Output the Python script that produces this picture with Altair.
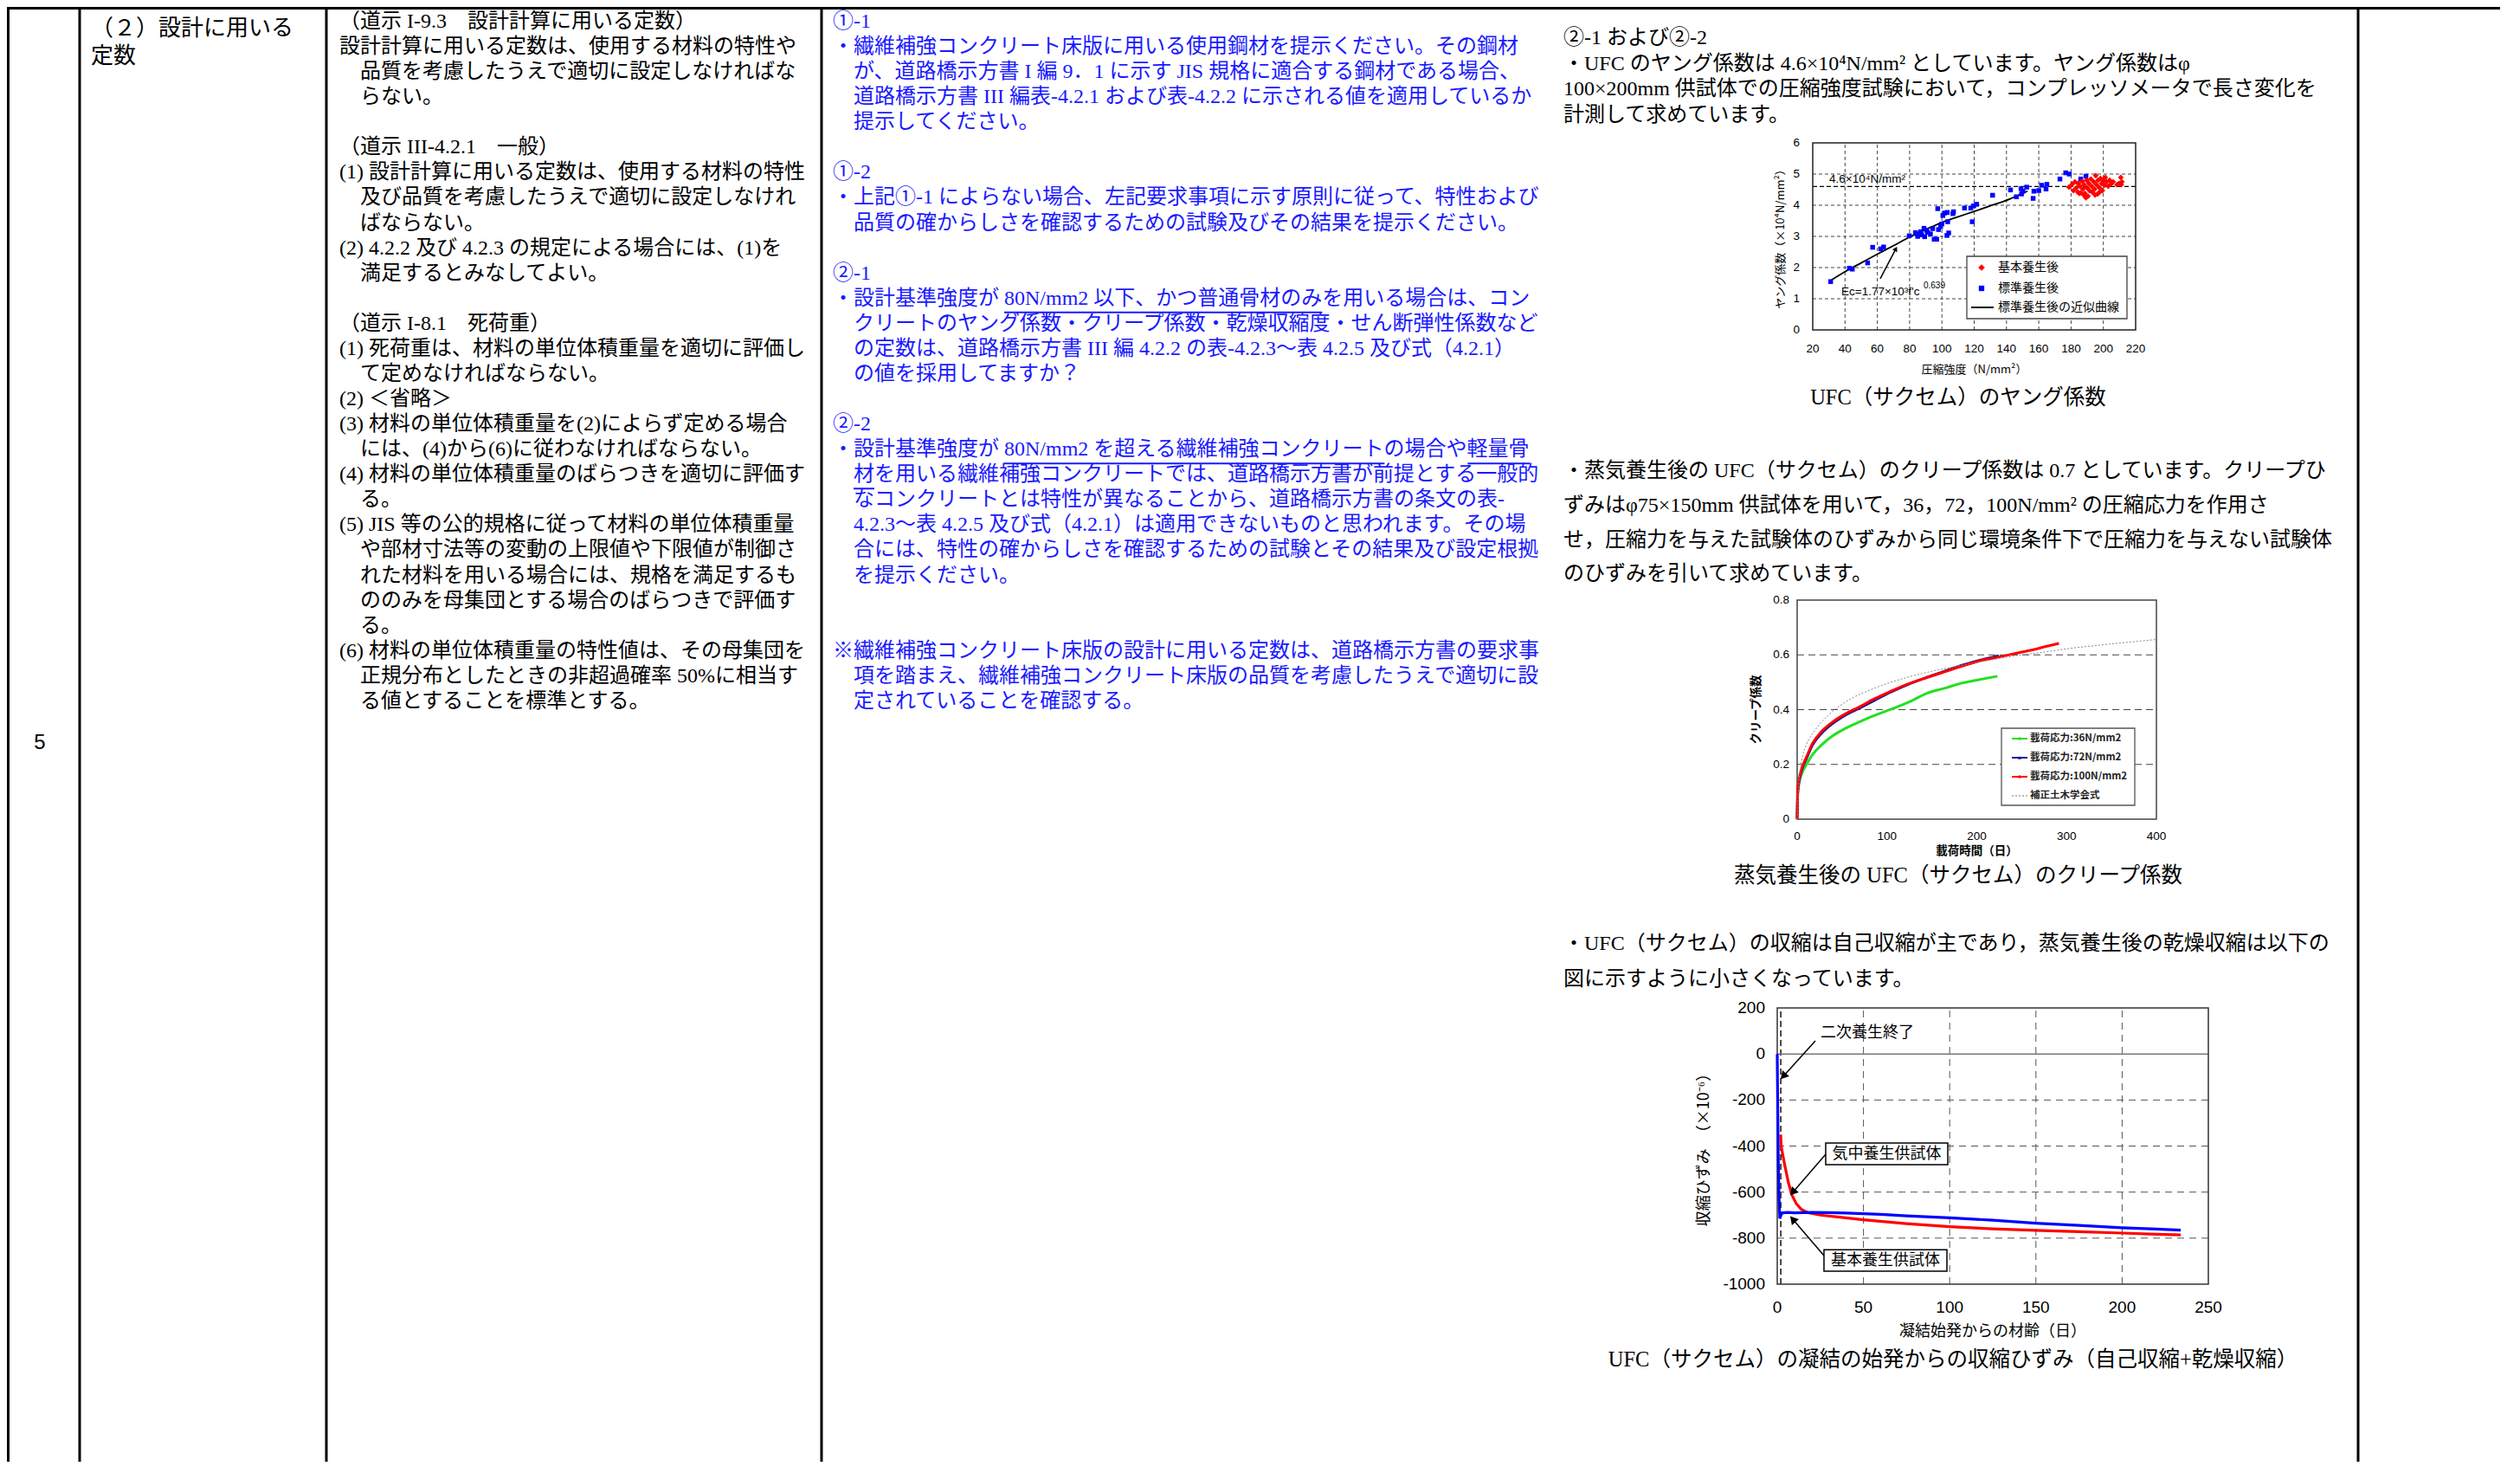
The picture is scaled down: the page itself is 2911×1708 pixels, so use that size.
import math
import altair as alt
import pandas as pd

# ---------------- page geometry ----------------
W, H = 2880, 1680
OFF = 8
SERIF = "Liberation Serif, Noto Sans CJK JP"
SANS = "Noto Sans CJK JP"
ARIAL = "Liberation Sans, Noto Sans CJK JP"
NARROW = "Liberation Sans Narrow, Liberation Sans, Noto Sans CJK JP"
BLUE_TXT = "#1a1aff"

# ---------------- document text ----------------
COL1_TEXT = ["5"]
COL2_TEXT = ["（２）設計に用いる", "定数"]

COL3_ROWS = [0, 1, 2, 3, 5, 6, 7, 8, 9, 10, 12, 13, 14, 15, 16, 17, 18, 19, 20, 21, 22, 23, 24, 25, 26, 27]
COL3_INDENT = [0, 0, 1, 1, 0, 0, 1, 1, 0, 1, 0, 0, 1, 0, 0, 1, 0, 1, 0, 1, 1, 1, 1, 0, 1, 1]
COL3_TEXT = [
    "（道示 I-9.3　設計計算に用いる定数）",
    "設計計算に用いる定数は、使用する材料の特性や",
    "品質を考慮したうえで適切に設定しなければな",
    "らない。",
    "（道示 III-4.2.1　一般）",
    "(1) 設計計算に用いる定数は、使用する材料の特性",
    "及び品質を考慮したうえで適切に設定しなけれ",
    "ばならない。",
    "(2) 4.2.2 及び 4.2.3 の規定による場合には、(1)を",
    "満足するとみなしてよい。",
    "（道示 I-8.1　死荷重）",
    "(1) 死荷重は、材料の単位体積重量を適切に評価し",
    "て定めなければならない。",
    "(2) ＜省略＞",
    "(3) 材料の単位体積重量を(2)によらず定める場合",
    "には、(4)から(6)に従わなければならない。",
    "(4) 材料の単位体積重量のばらつきを適切に評価す",
    "る。",
    "(5) JIS 等の公的規格に従って材料の単位体積重量",
    "や部材寸法等の変動の上限値や下限値が制御さ",
    "れた材料を用いる場合には、規格を満足するも",
    "ののみを母集団とする場合のばらつきで評価す",
    "る。",
    "(6) 材料の単位体積重量の特性値は、その母集団を",
    "正規分布としたときの非超過確率 50%に相当す",
    "る値とすることを標準とする。",
]

COL4_ROWS = [0, 1, 2, 3, 4, 6, 7, 8, 10, 11, 12, 13, 14, 16, 17, 18, 19, 20, 21, 22, 25, 26, 27]
COL4_INDENT = [0, 0, 1, 1, 1, 0, 0, 1, 0, 0, 1, 1, 1, 0, 0, 1, 1, 1, 1, 1, 0, 1, 1]
COL4_TEXT = [
    "①-1",
    "・繊維補強コンクリート床版に用いる使用鋼材を提示ください。その鋼材",
    "が、道路橋示方書 I 編 9．1 に示す JIS 規格に適合する鋼材である場合、",
    "道路橋示方書 III 編表-4.2.1 および表-4.2.2 に示される値を適用しているか",
    "提示してください。",
    "①-2",
    "・上記①-1 によらない場合、左記要求事項に示す原則に従って、特性および",
    "品質の確からしさを確認するための試験及びその結果を提示ください。",
    "②-1",
    "・設計基準強度が 80N/mm2 以下、かつ普通骨材のみを用いる場合は、コン",
    "クリートのヤング係数・クリープ係数・乾燥収縮度・せん断弾性係数など",
    "の定数は、道路橋示方書 III 編 4.2.2 の表-4.2.3～表 4.2.5 及び式（4.2.1）",
    "の値を採用してますか？",
    "②-2",
    "・設計基準強度が 80N/mm2 を超える繊維補強コンクリートの場合や軽量骨",
    "材を用いる繊維補強コンクリートでは、道路橋示方書が前提とする一般的",
    "なコンクリートとは特性が異なることから、道路橋示方書の条文の表-",
    "4.2.3～表 4.2.5 及び式（4.2.1）は適用できないものと思われます。その場",
    "合には、特性の確からしさを確認するための試験とその結果及び設定根拠",
    "を提示ください。",
    "※繊維補強コンクリート床版の設計に用いる定数は、道路橋示方書の要求事",
    "項を踏まえ、繊維補強コンクリート床版の品質を考慮したうえで適切に設",
    "定されていることを確認する。",
]
# underlined parts of column 4: (row, text before, underlined text)
COL4_UNDERLINES = [
    (11, "・設計基準強度が ", "80N/mm2 以下、かつ普通骨材のみ"),
    (17, "・設計基準強度が ", "80N/mm2 を超える繊維補強コンクリート"),
    (17, "・設計基準強度が 80N/mm2 を超える繊維補強コンクリートの場合や", "軽量骨"),
    (18, "　", "材"),
]

COL5_Y = [44, 74, 103, 133, 544, 584, 624, 663, 1090, 1131]
COL5_TEXT = [
    "②-1 および②-2",
    "・UFC のヤング係数は 4.6×10⁴N/mm² としています。ヤング係数はφ",
    "100×200mm 供試体での圧縮強度試験において，コンプレッソメータで長さ変化を",
    "計測して求めています。",
    "・蒸気養生後の UFC（サクセム）のクリープ係数は 0.7 としています。クリープひ",
    "ずみはφ75×150mm 供試体を用いて，36，72，100N/mm² の圧縮応力を作用さ",
    "せ，圧縮力を与えた試験体のひずみから同じ環境条件下で圧縮力を与えない試験体",
    "のひずみを引いて求めています。",
    "・UFC（サクセム）の収縮は自己収縮が主であり，蒸気養生後の乾燥収縮は以下の",
    "図に示すように小さくなっています。",
]
CAPTIONS = [
    "UFC（サクセム）のヤング係数",
    "蒸気養生後の UFC（サクセム）のクリープ係数",
    "UFC（サクセム）の凝結の始発からの収縮ひずみ（自己収縮+乾燥収縮）",
]

# ---------------- chart 1 data : Young's modulus ----------------
C1_BLUE_X = [31.1, 42.7, 44.5, 54.0, 57.1, 62.1, 63.9, 79.8, 83.6, 84.5, 85.0, 86.8, 87.5, 88.9, 89.3,
             90.5, 91.1, 92.9, 94.3, 95.2, 96.8, 97.4, 97.9, 99.2, 100.0, 100.6, 101.8, 103.1, 103.3,
             103.6, 104.2, 106.8, 107.2, 114.0, 117.9, 118.8, 119.7, 121.5, 131.4, 142.5, 146.1,
             149.0, 149.3, 150.2, 152.5, 156.5, 157.0, 160.0, 161.8, 164.5, 165.0, 173.1, 176.7,
             178.9, 186.0, 189.2]
C1_BLUE_Y = [1.55, 1.98, 1.95, 2.15, 2.65, 2.60, 2.66, 3.02, 3.12, 3.08, 3.00, 3.15, 3.05, 3.26, 2.99,
             3.20, 3.13, 3.08, 3.25, 2.91, 2.91, 3.89, 3.22, 3.31, 3.40, 3.67, 3.75, 3.03, 3.77,
             3.47, 3.11, 3.73, 3.79, 3.91, 3.91, 3.47, 3.98, 4.03, 4.32, 4.49, 4.27,
             4.53, 4.36, 4.45, 4.58, 4.22, 4.45, 4.47, 4.64, 4.52, 4.67, 4.84, 5.04,
             5.00, 4.84, 4.93]
C1_RED_X = [178.7, 180.6, 181.5, 182.4, 183.3, 184.2, 184.5, 185.1, 185.6, 186.0, 186.9, 187.4, 187.8,
            188.1, 188.6, 189.2, 189.6, 189.9, 190.5, 191.0, 191.4, 192.3, 192.8, 193.2, 194.1, 194.6,
            194.9, 195.3, 195.8, 196.4, 196.7, 197.6, 197.6, 198.2, 198.9, 199.4, 200.0, 200.7, 201.2,
            202.1, 203.0, 203.9, 204.8, 206.1, 208.4, 209.7, 210.8, 211.1, 211.5]
C1_RED_Y = [4.58, 4.67, 4.47, 4.75, 4.56, 4.42, 4.70, 4.38, 4.61, 4.40, 4.77, 4.52, 4.33,
            4.66, 4.38, 4.24, 4.80, 4.56, 4.29, 4.70, 4.47, 4.84, 4.61, 4.42, 4.75, 4.52,
            4.33, 4.95, 4.66, 4.36, 4.80, 4.56, 4.42, 4.86, 4.70, 4.47, 4.80, 4.64, 4.89,
            4.75, 4.61, 4.80, 4.68, 4.75, 4.66, 4.70, 4.89, 4.66, 4.75]
C1_FIT_X = [31.5, 40, 50, 60, 70, 80, 90, 100, 110, 120, 130, 142, 153]
C1_FIT_Y = [1.60, 1.87, 2.15, 2.43, 2.70, 2.98, 3.22, 3.45, 3.63, 3.80, 3.98, 4.20, 4.45]
C1_XTICKS = [20, 40, 60, 80, 100, 120, 140, 160, 180, 200, 220]
C1_YTICKS = [0, 1, 2, 3, 4, 5, 6]
C1_XLABELS = ["20", "40", "60", "80", "100", "120", "140", "160", "180", "200", "220"]
C1_YLABELS = ["0", "1", "2", "3", "4", "5", "6"]
C1_TITLES = ["圧縮強度（N/mm²）", "ヤング係数（×10⁴N/mm²）"]

# ---------------- chart 2 data : creep coefficient ----------------
C2_GREEN_T = [0, 0.5, 2, 5.6, 10.5, 17, 26.8, 39.9, 52.9, 69.3, 85.6, 105, 124.8, 144.4, 164, 183.7, 203.3, 222.9]
C2_GREEN_V = [0, 0.09, 0.13, 0.17, 0.2, 0.235, 0.27, 0.305, 0.33, 0.355, 0.378, 0.402, 0.428, 0.46, 0.478, 0.497, 0.51, 0.522]
C2_BLUE_T = [0, 0.7, 2.3, 5.6, 10.5, 17, 26.8, 39.9, 52.9, 69.3, 85.6, 105, 124.8, 144.4, 164, 183.7, 203.3, 224.5]
C2_BLUE_V = [0, 0.1, 0.14, 0.185, 0.222, 0.27, 0.312, 0.35, 0.378, 0.405, 0.433, 0.465, 0.494, 0.518, 0.54, 0.562, 0.58, 0.597]
C2_RED_T = [0, 0.7, 2.3, 5.6, 10.5, 17, 26.8, 39.9, 52.9, 69.3, 85.6, 105, 124.8, 144.4, 164, 183.7, 203.3, 222.9, 242.5, 262.1, 275.2, 291.5]
C2_RED_V = [0, 0.105, 0.148, 0.19, 0.228, 0.276, 0.319, 0.356, 0.383, 0.41, 0.439, 0.468, 0.495, 0.517, 0.538, 0.559, 0.578, 0.591, 0.605, 0.618, 0.629, 0.642]
C2_JSCE_T = [0, 1, 3, 6, 10, 20, 30, 40, 60, 80, 100, 125, 150, 175, 200, 225, 250, 275, 300, 350, 400]
C2_JSCE_V = [0, 0.09, 0.17, 0.23, 0.27, 0.325, 0.365, 0.395, 0.44, 0.47, 0.495, 0.52, 0.54, 0.557, 0.572, 0.587, 0.6, 0.61, 0.622, 0.64, 0.656]
C2_LEGEND = ["載荷応力:36N/mm2", "載荷応力:72N/mm2", "載荷応力:100N/mm2", "補正土木学会式"]
C2_XTICKS = [0, 100, 200, 300, 400]
C2_YTICKS = [0, 0.2, 0.4, 0.6, 0.8]
C2_XLABELS = ["0", "100", "200", "300", "400"]
C2_YLABELS = ["0", "0.2", "0.4", "0.6", "0.8"]
C2_TITLES = ["載荷時間（日）", "クリープ係数"]

# ---------------- chart 3 data : shrinkage strain ----------------
C3_BLUE_T = [0, 0.3, 0.6, 1.0, 1.5, 2.2, 3, 6, 10, 20, 30, 40, 50, 60, 75, 100, 125, 150, 175, 200, 220, 234]
C3_BLUE_V = [0, -250, -450, -620, -715, -700, -690, -688, -690, -688, -689, -691, -694, -697, -703, -712, -722, -735, -745, -755, -761, -765]
C3_RED_T = [2.0, 2.3, 3, 4.5, 6.5, 8.5, 11, 14, 18, 25, 35, 50, 75, 100, 125, 150, 175, 200, 220, 234]
C3_RED_V = [-350, -400, -430, -488, -560, -612, -650, -675, -690, -700, -708, -720, -737, -750, -760, -766, -772, -778, -783, -786]
C3_XTICKS = [0, 50, 100, 150, 200, 250]
C3_YTICKS = [-1000, -800, -600, -400, -200, 0, 200]
C3_XLABELS = ["0", "50", "100", "150", "200", "250"]
C3_YLABELS = ["-1000", "-800", "-600", "-400", "-200", "0", "200"]
C3_TITLES = ["凝結始発からの材齢（日）", "収縮ひずみ　（×10⁻⁶）"]
C3_LABELS = ["二次養生終了", "気中養生供試体", "基本養生供試体"]

# ---------------- layout constants ----------------
ROW0, ROWH = 25.0, 29.07
X_COL3, X_COL4, X_COL5, INDENT = 392, 962, 1806, 24
G1 = dict(x0=2094, x1=2467, top=165, bot=381, dx=(20, 220), dy=(0, 6))
G2 = dict(x0=2076, x1=2491, top=693, bot=946, dx=(0, 400), dy=(0, 0.8))
G3 = dict(x0=2053, x1=2551, top=1164, bot=1483, dx=(0, 250), dy=(-1000, 200))

LAT = {" ": 250, ".": 250, ",": 250, "-": 333, "(": 333, ")": 333, "/": 278, "%": 833,
       "N": 722, "m": 778, "I": 333, "J": 389, "S": 556, "U": 722, "F": 556, "C": 667}


def est_w(s, size):
    w = 0
    for ch in s:
        if ch == "×":
            w += 564
        elif ord(ch) < 0x2000:
            w += LAT.get(ch, 500)
        else:
            w += 1000
    return w * size / 1000.0


PX = alt.Scale(domain=[OFF, OFF + W], range=[0, W], nice=False, zero=False)
PY = alt.Scale(domain=[OFF, OFF + H], range=[0, H], nice=False, zero=False)


def gscale(g):
    sx = alt.Scale(domain=list(g["dx"]), range=[g["x0"] - OFF, g["x1"] - OFF], nice=False, zero=False)
    sy = alt.Scale(domain=list(g["dy"]), range=[g["bot"] - OFF, g["top"] - OFF], nice=False, zero=False)
    return sx, sy


def to_page(d, v, g):
    px = g["x0"] + (d - g["dx"][0]) / (g["dx"][1] - g["dx"][0]) * (g["x1"] - g["x0"])
    py = g["bot"] - (v - g["dy"][0]) / (g["dy"][1] - g["dy"][0]) * (g["bot"] - g["top"])
    return px, py


def inv_x(px, g):
    return g["dx"][0] + (px - g["x0"]) / (g["x1"] - g["x0"]) * (g["dx"][1] - g["dx"][0])


def inv_y(py, g):
    return g["dy"][0] + (g["bot"] - py) / (g["bot"] - g["top"]) * (g["dy"][1] - g["dy"][0])


def penc(x="x", y="y"):
    return dict(x=alt.X(f"{x}:Q", scale=PX, axis=None), y=alt.Y(f"{y}:Q", scale=PY, axis=None))


def page_text(df, font, align="left", weight="normal"):
    return alt.Chart(df).mark_text(font=font, align=align, baseline="middle", fontWeight=weight).encode(
        **penc(), text="text:N",
        color=alt.Color("color:N", scale=None), size=alt.Size("size:Q", scale=None))


def cenc(sx, sy, x="x", y="y"):
    return dict(x=alt.X(f"{x}:Q", scale=sx, axis=None), y=alt.Y(f"{y}:Q", scale=sy, axis=None))


def axis_text(sx, sy, g, xticks, xlabels, yticks, ylabels, titles, lab_font, lab_size, title_size,
              xlab_py, ylab_px, xtitle_py, ytitle_px, title_weight="normal"):
    out = []
    dfx = pd.DataFrame(dict(x=xticks, y=inv_y(xlab_py, g), text=xlabels))
    out.append(alt.Chart(dfx).mark_text(font=lab_font, fontSize=lab_size, align="center", baseline="middle",
                                        color="black").encode(**cenc(sx, sy), text="text:N"))
    dfy = pd.DataFrame(dict(x=inv_x(ylab_px, g), y=yticks, text=ylabels))
    out.append(alt.Chart(dfy).mark_text(font=lab_font, fontSize=lab_size, align="right", baseline="middle",
                                        color="black").encode(**cenc(sx, sy), text="text:N"))
    dft = pd.DataFrame(dict(x=[(g["dx"][0] + g["dx"][1]) / 2], y=[inv_y(xtitle_py, g)], text=[titles[0]]))
    out.append(alt.Chart(dft).mark_text(font=SANS, fontSize=title_size, align="center", baseline="middle",
                                        color="black", fontWeight=title_weight).encode(**cenc(sx, sy), text="text:N"))
    dfl = pd.DataFrame(dict(x=[inv_x(ytitle_px, g)], y=[(g["dy"][0] + g["dy"][1]) / 2], text=[titles[1]]))
    out.append(alt.Chart(dfl).mark_text(font=SANS, fontSize=title_size, align="center", baseline="middle",
                                        angle=270, color="black", fontWeight=title_weight).encode(
        **cenc(sx, sy), text="text:N"))
    return out


def arrows(sx, sy, g, starts, tips, size=70):
    rows = []
    for (xs, ys), (xe, ye) in zip(starts, tips):
        p0, p1 = to_page(xs, ys, g), to_page(xe, ye, g)
        ang = math.degrees(math.atan2(p1[0] - p0[0], -(p1[1] - p0[1]))) % 360
        rows.append(dict(xs=xs, ys=ys, xe=xe, ye=ye, ang=ang))
    df = pd.DataFrame(rows)
    shaft = alt.Chart(df).mark_rule(color="black", strokeWidth=1.5).encode(
        x=alt.X("xs:Q", scale=sx, axis=None), y=alt.Y("ys:Q", scale=sy, axis=None), x2="xe:Q", y2="ye:Q")
    head = alt.Chart(df).mark_point(shape="triangle-up", filled=True, color="black", size=size, opacity=1).encode(
        x=alt.X("xe:Q", scale=sx, axis=None), y=alt.Y("ye:Q", scale=sy, axis=None),
        angle=alt.Angle("ang:Q", scale=None))
    return [shaft, head]


def grid(sx, sy, g, xs=(), ys=(), color="#444", dash=(4, 3), width=1.0):
    out = []
    if xs:
        dv = pd.DataFrame({"x": list(xs), "y": g["dy"][0], "y2": g["dy"][1]})
        out.append(alt.Chart(dv).mark_rule(color=color, strokeDash=list(dash), strokeWidth=width).encode(
            **cenc(sx, sy), y2="y2:Q"))
    if ys:
        dh = pd.DataFrame({"y": list(ys), "x": g["dx"][0], "x2": g["dx"][1]})
        out.append(alt.Chart(dh).mark_rule(color=color, strokeDash=list(dash), strokeWidth=width).encode(
            **cenc(sx, sy), x2="x2:Q"))
    return out


def frame(sx, sy, g, color="black"):
    df = pd.DataFrame([dict(x=g["dx"][0], x2=g["dx"][1], y=g["dy"][0], y2=g["dy"][1])])
    return alt.Chart(df).mark_rect(fillOpacity=0, stroke=color, strokeWidth=1.5).encode(
        **cenc(sx, sy), x2="x2:Q", y2="y2:Q")


# ================= page layer (table + text) =================
table_rules = pd.DataFrame(
    [dict(x=v, x2=v, y=OFF, y2=OFF + H) for v in [9.5, 92, 377, 949, 2724]]
    + [dict(x=OFF, x2=OFF + W, y=9.5, y2=9.5)])
rules_layer = alt.Chart(table_rules).mark_rule(color="black", strokeWidth=3).encode(
    **penc(), x2="x2:Q", y2="y2:Q")

serif_rows = []
for r, ind, t in zip(COL3_ROWS, COL3_INDENT, COL3_TEXT):
    serif_rows.append(dict(x=X_COL3 + ind * INDENT, y=ROW0 + r * ROWH, text=t, color="#000000", size=24))
for r, ind, t in zip(COL4_ROWS, COL4_INDENT, COL4_TEXT):
    serif_rows.append(dict(x=X_COL4 + ind * INDENT, y=ROW0 + r * ROWH, text=t, color=BLUE_TXT, size=24))
for y, t in zip(COL5_Y, COL5_TEXT):
    serif_rows.append(dict(x=X_COL5, y=y, text=t, color="#000000", size=24))
serif_layer = page_text(pd.DataFrame(serif_rows), SERIF)

cap_df = pd.DataFrame(dict(x=[2262, 2262, 2256], y=[460, 1012, 1571], text=CAPTIONS,
                           color="#000000", size=24.5))
cap_layer = page_text(cap_df, SERIF, align="center")

sans_df = pd.DataFrame(dict(x=[105, 105], y=[33, 65], text=COL2_TEXT, color="#000000", size=26))
sans_layer = page_text(sans_df, SANS)
num_df = pd.DataFrame(dict(x=[46], y=[858], text=COL1_TEXT, color="#000000", size=24))
num_layer = page_text(num_df, ARIAL, align="center")

ul_rows = []
for r, pre, seg in COL4_UNDERLINES:
    x0 = X_COL4 + est_w(pre, 24)
    ul_rows.append(dict(x=x0, x2=x0 + est_w(seg, 24), y=ROW0 + r * ROWH + 16))
ul_df = pd.DataFrame(ul_rows)
ul_layer = alt.Chart(ul_df).mark_rule(color=BLUE_TXT, strokeWidth=2).encode(**penc(), x2="x2:Q")

page_base = alt.layer(rules_layer, ul_layer, serif_layer, cap_layer, sans_layer, num_layer)

# ================= chart 1 =================
S1X, S1Y = gscale(G1)
c1_layers = []
c1_layers += grid(S1X, S1Y, G1, xs=C1_XTICKS[1:-1], ys=C1_YTICKS[1:-1], color="#444", dash=(4, 3))
c1_layers += grid(S1X, S1Y, G1, ys=[4.6], color="#000", dash=(5, 3), width=1.3)
c1_layers.append(frame(S1X, S1Y, G1, color="#222"))
c1_layers += axis_text(S1X, S1Y, G1, C1_XTICKS, C1_XLABELS, C1_YTICKS, C1_YLABELS, C1_TITLES,
                       ARIAL, 13.5, 13, xlab_py=403, ylab_px=2079, xtitle_py=427, ytitle_px=2057)
c1_layers.append(alt.Chart(pd.DataFrame(dict(x=C1_FIT_X, y=C1_FIT_Y))).mark_line(
    color="black", strokeWidth=1.8, interpolate="monotone").encode(**cenc(S1X, S1Y)))
c1_layers.append(alt.Chart(pd.DataFrame(dict(x=C1_BLUE_X, y=C1_BLUE_Y))).mark_point(
    shape="square", filled=True, color="#0000ff", size=30, opacity=1).encode(**cenc(S1X, S1Y)))
c1_layers.append(alt.Chart(pd.DataFrame(dict(x=C1_RED_X, y=C1_RED_Y))).mark_point(
    shape="diamond", filled=True, color="#ff0000", size=45, opacity=1).encode(**cenc(S1X, S1Y)))
c1_txt = pd.DataFrame(dict(x=[30.2, 37.7, 88.6], y=[4.83, 1.22, 1.42],
                           text=["4.6×10⁴N/mm²", "Ec=1.77×10³f'c", "0.639"], size=[13.5, 13.5, 10]))
c1_layers.append(alt.Chart(c1_txt).mark_text(font=ARIAL, align="left", baseline="middle", color="black").encode(
    **cenc(S1X, S1Y), text="text:N", size=alt.Size("size:Q", scale=None)))
c1_layers += arrows(S1X, S1Y, G1, [(61.8, 1.64)], [(71.5, 2.6)], size=40)
chart1 = alt.layer(*c1_layers)

# ================= chart 2 =================
S2X, S2Y = gscale(G2)
c2_layers = []
c2_layers += grid(S2X, S2Y, G2, ys=[0.2, 0.4, 0.6], color="#444", dash=(8, 5))
c2_layers.append(frame(S2X, S2Y, G2, color="#444"))
c2_layers += axis_text(S2X, S2Y, G2, C2_XTICKS, C2_XLABELS, C2_YTICKS, C2_YLABELS, C2_TITLES,
                       ARIAL, 13.5, 13.5, xlab_py=966, ylab_px=2067, xtitle_py=983, ytitle_px=2029,
                       title_weight="bold")
c2_layers.append(alt.Chart(pd.DataFrame(dict(x=C2_GREEN_T, y=C2_GREEN_V))).mark_line(
    color="#22e022", strokeWidth=3, interpolate="monotone").encode(**cenc(S2X, S2Y)))
c2_layers.append(alt.Chart(pd.DataFrame(dict(x=C2_BLUE_T, y=C2_BLUE_V))).mark_line(
    color="#1a1a9a", strokeWidth=3, interpolate="monotone").encode(**cenc(S2X, S2Y)))
c2_layers.append(alt.Chart(pd.DataFrame(dict(x=C2_RED_T, y=C2_RED_V))).mark_line(
    color="#ff0000", strokeWidth=3, interpolate="monotone").encode(**cenc(S2X, S2Y)))
c2_layers.append(alt.Chart(pd.DataFrame(dict(x=C2_JSCE_T, y=C2_JSCE_V))).mark_line(
    color="#888888", strokeWidth=1, strokeDash=[2, 2], interpolate="monotone").encode(**cenc(S2X, S2Y)))
chart2 = alt.layer(*c2_layers)

# ================= chart 3 =================
S3X, S3Y = gscale(G3)
c3_layers = []
c3_layers += grid(S3X, S3Y, G3, xs=[50, 100, 150, 200], ys=[-800, -600, -400, -200], color="#555", dash=(8, 6))
c3_layers += grid(S3X, S3Y, G3, xs=[2.05], color="#111", dash=(7, 4), width=1.5)
c3_layers += grid(S3X, S3Y, G3, ys=[0], color="#777", dash=(1, 0), width=1.5)
c3_layers.append(frame(S3X, S3Y, G3, color="#333"))
c3_layers += axis_text(S3X, S3Y, G3, C3_XTICKS, C3_XLABELS, C3_YTICKS, C3_YLABELS, C3_TITLES,
                       NARROW, 19, 18, xlab_py=1510, ylab_px=2039, xtitle_py=1538, ytitle_px=1969)
c3_layers.append(alt.Chart(pd.DataFrame(dict(x=C3_RED_T, y=C3_RED_V))).mark_line(
    color="#ff0000", strokeWidth=3.2).encode(**cenc(S3X, S3Y)))
c3_layers.append(alt.Chart(pd.DataFrame(dict(x=C3_BLUE_T, y=C3_BLUE_V))).mark_line(
    color="#0000ff", strokeWidth=3.2).encode(**cenc(S3X, S3Y)))
c3_layers += arrows(S3X, S3Y, G3, [(22.1, 57), (28.1, -436), (27.1, -876)],
                    [(3.5, -97), (9.0, -601), (9.0, -718)], size=110)
box_df = pd.DataFrame(dict(x=[28.1, 27.1], x2=[98.9, 98.4], y=[-387, -850], y2=[-481, -944]))
c3_layers.append(alt.Chart(box_df).mark_rect(fill="white", stroke="black", strokeWidth=1.5).encode(
    **cenc(S3X, S3Y), x2="x2:Q", y2="y2:Q"))
lab_df = pd.DataFrame(dict(x=[25.1, 63.5, 62.8], y=[91, -434, -897], text=C3_LABELS))
c3_layers.append(alt.Chart(lab_df.iloc[:1]).mark_text(font=SANS, fontSize=18, align="left", baseline="middle",
                                                      color="black").encode(**cenc(S3X, S3Y), text="text:N"))
c3_layers.append(alt.Chart(lab_df.iloc[1:]).mark_text(font=SANS, fontSize=18, align="center", baseline="middle",
                                                      color="black").encode(**cenc(S3X, S3Y), text="text:N"))
chart3 = alt.layer(*c3_layers)

# ================= legends (page overlay) =================
leg_boxes = pd.DataFrame(dict(x=[2272, 2312], x2=[2457, 2466], y=[296, 841], y2=[368, 930],
                              stroke=["#444", "#555"]))
box_layer = alt.Chart(leg_boxes).mark_rect(fill="white", strokeWidth=1.3).encode(
    **penc(), x2="x2:Q", y2="y2:Q", stroke=alt.Stroke("stroke:N", scale=None))
leg_sym = pd.DataFrame(dict(x=[2289, 2289, 2333, 2333, 2333], y=[309, 333, 853, 875, 897],
                            shape=["diamond", "square", "circle", "triangle-up", "circle"],
                            color=["#ff0000", "#0000ff", "#22e022", "#1a1a9a", "#ff0000"],
                            size=[60, 40, 14, 18, 14]))
sym_layer = alt.Chart(leg_sym).mark_point(filled=True, opacity=1).encode(
    **penc(), shape=alt.Shape("shape:N", scale=None), color=alt.Color("color:N", scale=None),
    size=alt.Size("size:Q", scale=None))
leg_lines = pd.DataFrame(dict(x=[2277, 2324, 2324, 2324], x2=[2303, 2342, 2342, 2342], y=[355, 853, 875, 897],
                              color=["black", "#22e022", "#1a1a9a", "#ff0000"]))
line_layer = alt.Chart(leg_lines).mark_rule(strokeWidth=2).encode(
    **penc(), x2="x2:Q", color=alt.Color("color:N", scale=None))
dot_layer = alt.Chart(pd.DataFrame(dict(x=[2324], x2=[2342], y=[919]))).mark_rule(
    strokeWidth=1, color="#777", strokeDash=[2, 2]).encode(**penc(), x2="x2:Q")
leg_txt1 = pd.DataFrame(dict(x=2308, y=[309, 333, 355], text=["基本養生後", "標準養生後", "標準養生後の近似曲線"],
                             color="#000000", size=14))
leg_txt2 = pd.DataFrame(dict(x=2345, y=[853, 875, 897, 919], text=C2_LEGEND, color="#222222", size=11.5))
page_over = alt.layer(box_layer, line_layer, dot_layer, sym_layer,
                      page_text(leg_txt1, SANS), page_text(leg_txt2, SANS, weight="bold"))

chart = alt.layer(page_base, chart1, chart2, chart3, page_over).resolve_scale(
    x="independent", y="independent", color="independent", size="independent",
    shape="independent", angle="independent", stroke="independent"
).properties(
    width=W, height=H, padding=0, autosize=alt.AutoSizeParams(type="none"), background="white"
).configure_view(strokeWidth=0)

chart.save("out.html", embed_options={"renderer": "svg", "actions": False})
